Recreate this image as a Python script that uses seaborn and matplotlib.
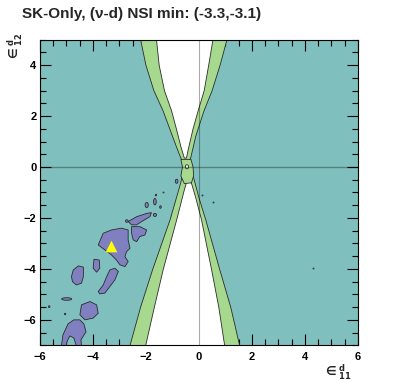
import matplotlib
matplotlib.use("Agg")
import matplotlib.pyplot as plt
from matplotlib.patches import Ellipse
import seaborn as sns

# contour outlines, (x, y) in epsilon units
upper_left_outer = [(-2.22, 5.3), (-2.2, 5.0), (-2.0, 4.0), (-1.7, 3.0), (-1.35, 2.2),
                    (-1.1, 1.5), (-0.85, 0.8), (-0.7, 0.4), (-0.62, 0.22)]
upper_right_outer = [(-0.36, 0.2), (-0.3, 0.4), (-0.12, 1.2), (0.19, 2.2), (0.5, 3.0),
                     (0.8, 4.0), (1.06, 5.0), (1.1, 5.3)]
upper_left_inner = [(-1.64, 5.3), (-1.6, 5.0), (-1.5, 4.0), (-1.3, 3.0), (-1.03, 2.2),
                    (-0.85, 1.5), (-0.68, 0.8), (-0.55, 0.35)]
upper_right_inner = [(-0.47, 0.35), (-0.4, 0.7), (-0.22, 1.5), (-0.03, 2.2), (0.2, 3.0),
                     (0.37, 4.0), (0.53, 5.0), (0.55, 5.3)]

lower_left_outer = [(-0.62, -0.3), (-0.68, -0.6), (-1.09, -2.08), (-1.75, -4.04),
                    (-2.2, -5.5), (-2.65, -7.2)]
lower_right_outer = [(1.58, -7.2), (1.2, -5.5), (0.79, -4.04), (0.26, -2.08), (0.0, -1.2),
                     (-0.21, -0.38), (-0.3, -0.3)]
lower_left_inner = [(-0.45, -0.55), (-0.55, -0.9), (-0.84, -2.08), (-1.35, -4.04),
                    (-1.68, -5.5), (-2.05, -7.2)]
lower_right_inner = [(1.0, -7.2), (0.75, -5.5), (0.48, -4.04), (0.10, -2.08), (-0.12, -1.2),
                     (-0.28, -0.64), (-0.36, -0.55)]

crossing_blob = [(-0.68, 0.3), (-0.3, 0.3), (-0.22, 0.0), (-0.2, -0.35), (-0.28, -0.62),
                 (-0.55, -0.65), (-0.68, -0.35), (-0.62, 0.0)]
crossing_hole = (-0.45, 0.01, 0.12, 0.16)

purple_islands = [
    [(-3.80, -3.06), (-3.61, -2.60), (-3.30, -2.47), (-2.92, -2.40), (-2.67, -2.47),
     (-2.67, -2.86), (-2.60, -3.19), (-2.73, -3.32), (-2.79, -3.52), (-2.67, -3.71),
     (-2.79, -3.91), (-2.98, -3.84), (-3.11, -3.65), (-3.30, -3.45), (-3.55, -3.25)],
    [(-2.67, -2.14), (-2.35, -1.95), (-1.97, -1.82), (-1.79, -1.79), (-1.85, -1.95),
     (-2.16, -2.14), (-2.35, -2.27), (-2.54, -2.27)],
    [(-2.54, -2.34), (-2.23, -2.34), (-1.97, -2.47), (-2.04, -2.67), (-2.23, -2.73),
     (-2.35, -2.93), (-2.48, -2.86), (-2.54, -2.60)],
    [(-3.96, -3.62), (-3.76, -3.65), (-3.74, -3.97), (-3.86, -4.13), (-3.99, -3.97)],
    [(-4.74, -4.04), (-4.55, -3.88), (-4.36, -3.93), (-4.36, -4.30), (-4.43, -4.56),
     (-4.62, -4.63), (-4.77, -4.50), (-4.81, -4.30)],
    [(-3.80, -4.89), (-3.61, -4.63), (-3.48, -4.30), (-3.36, -4.04), (-3.17, -3.97),
     (-3.04, -4.10), (-3.17, -4.43), (-3.36, -4.69), (-3.55, -4.95), (-3.74, -4.98)],
    [(-4.43, -5.41), (-4.11, -5.28), (-3.86, -5.41), (-3.80, -5.74), (-3.99, -5.93),
     (-4.30, -6.00), (-4.49, -5.80)],
    [(-5.21, -7.2), (-5.13, -6.59), (-4.94, -6.16), (-4.72, -6.0), (-4.49, -6.0),
     (-4.34, -6.16), (-4.26, -6.47), (-4.45, -6.78), (-4.42, -7.2), (-4.57, -7.2),
     (-4.72, -6.71), (-4.87, -6.63), (-4.98, -6.86), (-5.02, -7.2)],
]
# small islands: centre x, centre y, width, height
small_islands = [(-1.97, -1.49, 0.12, 0.2), (-1.66, -1.36, 0.1, 0.25), (-1.66, -1.88, 0.12, 0.12),
                 (-4.99, -5.18, 0.38, 0.1), (-0.84, -0.56, 0.1, 0.16), (-2.72, -2.12, 0.1, 0.1),
                 (-1.45, -1.57, 0.06, 0.1), (-1.62, -1.1, 0.05, 0.06),
                 (-5.65, -5.48, 0.06, 0.07), (-5.05, -5.77, 0.05, 0.06)]
# tiny isolated points
dot_x = [0.10, 0.54, 4.30, -1.35]
dot_y = [-1.10, -1.36, -3.96, -1.0]

best_x = [-3.3]
best_y = [-3.1]

teal = "#7fbfbd"
green = "#a6d98e"
purple = "#8080c0"
edge = "#2b2b2b"

sns.set_style("ticks")
plt.rcParams["font.family"] = ["Liberation Sans", "DejaVu Sans"]
plt.rcParams["font.weight"] = "bold"
plt.rcParams["mathtext.fontset"] = "dejavusans"

fig = plt.figure(figsize=(3.99, 3.85), dpi=100)
ax = fig.add_axes([0.100, 0.103, 0.797, 0.794])
ax.set_facecolor(teal)


def poly(pts, fc, ec=edge, lw=0.6, z=2):
    xs = [p[0] for p in pts]
    ys = [p[1] for p in pts]
    ax.fill(xs, ys, facecolor=fc, edgecolor=ec, linewidth=lw, zorder=z)


poly(upper_left_outer + upper_right_outer, green)
poly(upper_left_inner + upper_right_inner, "white")
poly(lower_left_outer + lower_right_outer, green)
poly(lower_left_inner + lower_right_inner, "white")
poly(crossing_blob, green, z=3)
hx, hy, hw, hh = crossing_hole
ax.add_patch(Ellipse((hx, hy), hw, hh, facecolor="white", edgecolor=edge, linewidth=0.6, zorder=4))

for isl in purple_islands:
    poly(isl, purple, z=3)
for cx, cy, w, h in small_islands:
    ax.add_patch(Ellipse((cx, cy), w, h, facecolor=purple, edgecolor=edge, linewidth=0.6, zorder=3))
ax.scatter(dot_x, dot_y, s=2, color="#404040", linewidths=0, zorder=3)

ax.axhline(0, color="black", alpha=0.33, linewidth=1.0, zorder=5)
ax.axvline(0, color="black", alpha=0.33, linewidth=0.8, zorder=5)

sns.scatterplot(x=best_x, y=best_y, marker="^", color="#ffff00", s=70, linewidth=0,
                zorder=6, ax=ax)

ax.set_xlim(-6, 6)
ax.set_ylim(-7, 5)
ax.set_xticks([-6, -4, -2, 0, 2, 4, 6])
ax.set_yticks([-6, -4, -2, 0, 2, 4])
ax.set_xticks([v * 0.5 - 6 for v in range(25)], minor=True)
ax.set_yticks([v * 0.5 - 7 for v in range(25)], minor=True)
ax.tick_params(which="both", direction="in", top=True, right=True, width=0.8,
               colors="black", labelsize=8)
ax.tick_params(which="major", length=8)
ax.tick_params(which="minor", length=4)
ax.tick_params(axis="x", pad=5)
ax.tick_params(axis="y", pad=2.5)
for s in ax.spines.values():
    s.set_linewidth(0.8)
    s.set_color("black")
    s.set_zorder(7)

fig.text(22 / 399, 1 - 14 / 385, "SK-Only, (\u03bd-d) NSI min: (-3.3,-3.1)",
         ha="left", va="center", fontsize=11, fontweight="bold")
fig.text(352 / 399, 1 - 372 / 385, r"$\in^{\mathbf{d}}_{\mathbf{11}}$",
         ha="right", va="center", fontsize=8.5)
fig.text(15 / 399, 1 - 33 / 385, r"$\in^{\mathbf{d}}_{\mathbf{12}}$",
         ha="center", va="top", fontsize=8.5, rotation=90)

fig.savefig("out.png", dpi=100)
